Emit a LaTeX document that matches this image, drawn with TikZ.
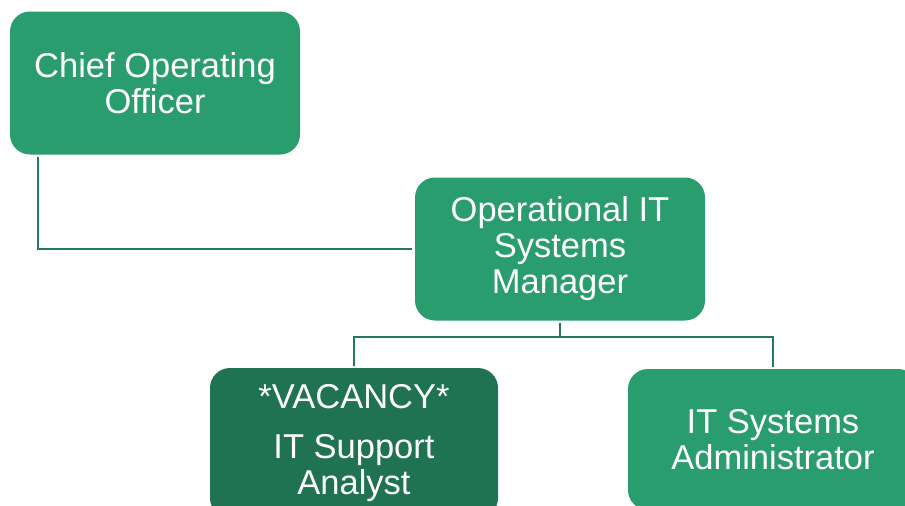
\documentclass[tikz,border=0pt]{standalone}
\usepackage{fontspec}
\setmainfont{Liberation Sans}
\definecolor{boxgreen}{HTML}{2A9D6F}
\definecolor{darkgreen}{HTML}{1F7352}
\definecolor{linegreen}{HTML}{237B5A}
\tikzset{
  orgbox/.style={rounded corners=20pt, fill=boxgreen, text=white, align=center,
    minimum width=290pt, minimum height=143pt, inner sep=0pt,
    font=\fontsize{34.5}{36}\selectfont},
  vacbox/.style={orgbox, fill=darkgreen},
  conn/.style={draw=linegreen, line width=2.3pt}
}
\begin{document}
\begin{tikzpicture}[x=1pt,y=-1pt]
\useasboundingbox (0,0) rectangle (905,506);
\clip (0,0) rectangle (905,506);
\node[orgbox] (coo) at (155,83) {Chief Operating\\Officer};
\node[orgbox] (mgr) at (560,249) {Operational IT\\Systems\\Manager};
\node[vacbox, minimum width=288pt, minimum height=150pt] (vac) at (354,443) {*VACANCY*\\[14pt]IT Support\\Analyst};
\node[orgbox, minimum height=141pt] (adm) at (773,439.5) {IT Systems\\Administrator};
\draw[conn] ([xshift=28pt,yshift=-2pt]coo.south west) |- ([xshift=-3pt]mgr.west);
\draw[conn] ([yshift=-2pt]mgr.south) -- ++(0,14) -| ([yshift=2pt]vac.north);
\draw[conn] ([yshift=-2pt]mgr.south) -- ++(0,14) -| ([yshift=2pt]adm.north);
\end{tikzpicture}
\end{document}
